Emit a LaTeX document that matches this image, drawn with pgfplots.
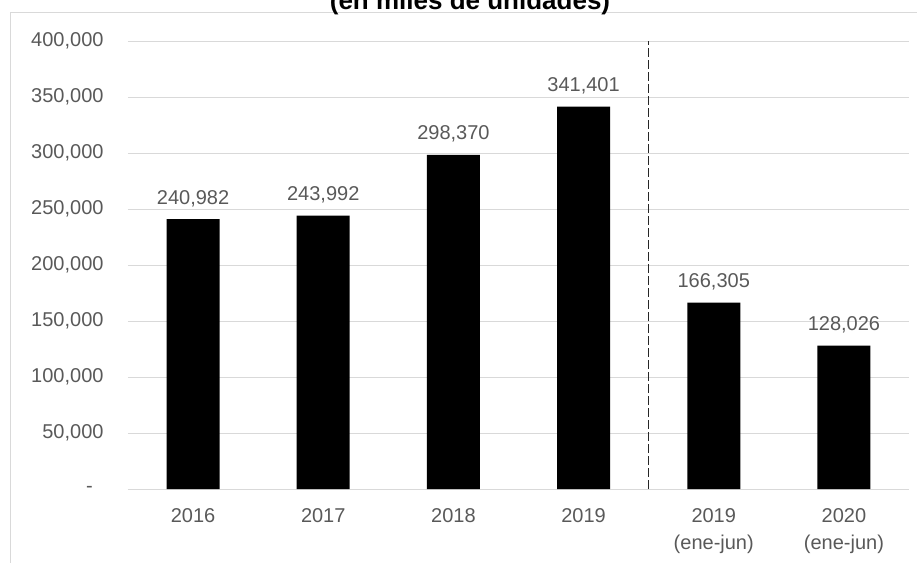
\documentclass[border=0pt]{standalone}
\usepackage{pgfplots}
\pgfplotsset{compat=1.18}
\usepackage{pgfplotstable}
\usepackage{fontspec}
\setmainfont{Liberation Sans}
\definecolor{txtgray}{HTML}{595959}
\definecolor{gridgray}{HTML}{D9D9D9}

\pgfplotstableread{
x  y       label
0  240982  {240,982}
1  243992  {243,992}
2  298370  {298,370}
3  341401  {341,401}
4  166305  {166,305}
5  128026  {128,026}
}\ventas

\begin{document}
\begin{tikzpicture}
  \begin{axis}[
      scale only axis, width=390.5pt, height=224pt,
      ybar, bar width=26.5pt,
      xmin=-0.5, xmax=5.5, ymin=0, ymax=400000,
      axis line style={draw=none},
      major tick length=0pt,
      ymajorgrids=true,
      grid style={gridgray, line width=0.5pt},
      scaled y ticks=false,
      ytick={0,50000,...,400000},
      yticklabels={-\kern5.4pt,{50,000},{100,000},{150,000},{200,000},{250,000},{300,000},{350,000},{400,000}},
      yticklabel style={font=\fontsize{10}{12}\selectfont, text=txtgray, anchor=east, xshift=-8.7pt},
      xtick={0,...,5},
      xticklabels={2016,2017,2018,2019,{2019\\(ene-jun)},{2020\\(ene-jun)}},
      xticklabel style={font=\fontsize{10}{13.5}\selectfont, text=txtgray, align=center, anchor=north, yshift=-6pt},
      nodes near coords,
      point meta=explicit symbolic,
      nodes near coords style={font=\fontsize{10}{12}\selectfont, text=txtgray, anchor=base, yshift=7.5pt},
    ]
    \addplot[fill=black, draw=none] table[x=x, y=y, meta=label] {\ventas};
    \draw[black!85, line width=0.5pt, dash pattern=on 4.5pt off 1.5pt]
      (axis cs:3.5,0) -- (axis cs:3.5,400000);
  \end{axis}
  % picture frame, relative to the axis' lower left corner (0,0)
  \draw[gridgray, line width=0.6pt] (-58.8pt,-60pt) -- (-58.8pt,238.1pt) -- (410pt,238.1pt);
  \node[font=\bfseries\fontsize{13}{15}\selectfont, anchor=base] at (171pt,239.5pt) {(en miles de unidades)};
  \pgfresetboundingbox
  \useasboundingbox (-64pt,244.5pt) rectangle (394.5pt,-37pt);
\end{tikzpicture}
\end{document}
